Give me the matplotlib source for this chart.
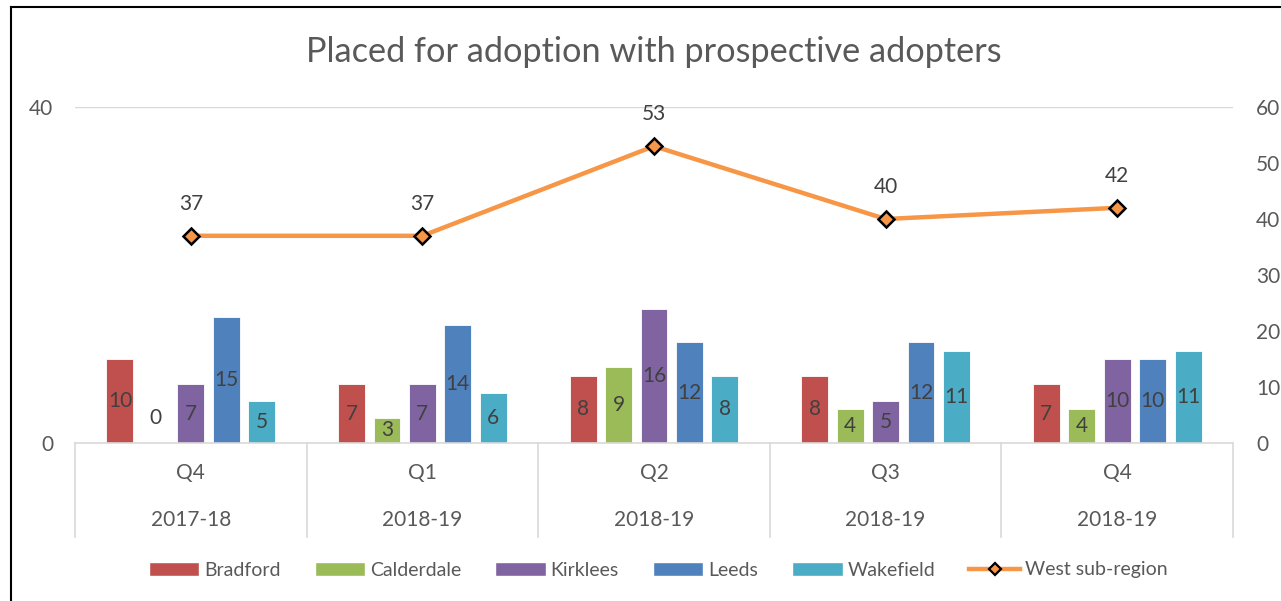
import matplotlib
matplotlib.use("Agg")
import matplotlib.pyplot as plt
import matplotlib.transforms as mtransforms
from matplotlib.lines import Line2D
from matplotlib.patches import Patch
import numpy as np

plt.rcParams['font.family'] = ['Lato', 'DejaVu Sans']

quarters = ["Q4", "Q1", "Q2", "Q3", "Q4"]
years = ["2017-18", "2018-19", "2018-19", "2018-19", "2018-19"]
series_names = ["Bradford", "Calderdale", "Kirklees", "Leeds", "Wakefield"]
bradford = [10, 7, 8, 8, 7]
calderdale = [0, 3, 9, 4, 4]
kirklees = [7, 7, 16, 5, 10]
leeds = [15, 14, 12, 12, 10]
wakefield = [5, 6, 8, 11, 11]
west = [37, 37, 53, 40, 42]
series_values = [bradford, calderdale, kirklees, leeds, wakefield]
colors = ["#C0504D", "#9BBB59", "#8064A2", "#4F81BD", "#4BACC6"]
line_color = "#F79646"
title = "Placed for adoption with prospective adopters"

W, H = 1281, 601
fig = plt.figure(figsize=(W / 100, H / 100), dpi=100)
L, R, T, B = 75, 1233, 107, 443
ax = fig.add_axes([L / W, (H - B) / H, (R - L) / W, (B - T) / H])
ax2 = ax.twinx()

x = np.arange(len(quarters))
step = 0.153
width = 0.116
tick_col = "#595959"
lab_col = "#404040"
fs = 15

for i, (name, vals, c) in enumerate(zip(series_names, series_values, colors)):
    xs = x + (i - 2) * step
    ax.bar(xs, vals, width, color=c, edgecolor="white", linewidth=0.6, zorder=2)
    for xi, v in zip(xs, vals):
        if v == 0:
            ax.annotate(str(v), (xi, 0), xytext=(0, 18), textcoords="offset points",
                        ha="center", va="center", fontsize=fs, color=lab_col, zorder=5)
        else:
            ax.text(xi, v / 2, str(v), ha="center", va="center", fontsize=fs,
                    color=lab_col, zorder=5)

ax2.plot(x, west, color=line_color, lw=3.2, marker="D", markersize=8,
         markerfacecolor=line_color, markeredgecolor="black", markeredgewidth=1.8, zorder=4)
for xi, v in zip(x, west):
    ax2.annotate(str(v), (xi, v), xytext=(0, 23), textcoords="offset points",
                 ha="center", va="center", fontsize=fs, color=lab_col)

ax.set_xlim(-0.5, len(quarters) - 0.5)
ax.set_ylim(0, 40)
ax2.set_ylim(0, 60)
ax.set_yticks([0, 40])
ax2.set_yticks(np.arange(0, 61, 10))
ax.set_xticks([])
for a in (ax, ax2):
    for s in a.spines.values():
        s.set_visible(False)
    a.tick_params(axis="y", length=0, labelsize=fs, labelcolor=tick_col)
ax.tick_params(axis="y", pad=15.5)
ax2.tick_params(axis="y", pad=16.5)
ax.axhline(40, color="#D9D9D9", lw=1, zorder=0)
ax.axhline(0, color="#D9D9D9", lw=1.2, zorder=3, clip_on=False)

# category axis
trans = mtransforms.blended_transform_factory(ax.transData, ax.transAxes)
hpx = B - T
bottom_frac = -(537 - B) / hpx
for b in np.arange(-0.5, len(quarters), 1.0):
    ax.add_line(Line2D([b, b], [0, bottom_frac], transform=trans, color="#D9D9D9",
                       lw=1.2, clip_on=False))
for xi, q, yr in zip(x, quarters, years):
    ax.text(xi, -(473 - B) / hpx, q, transform=trans, ha="center", va="center",
            fontsize=fs, color=tick_col)
    ax.text(xi, -(520 - B) / hpx, yr, transform=trans, ha="center", va="center",
            fontsize=fs, color=tick_col)

fig.text(654 / W, 1 - 52 / H, title, ha="center", va="center", fontsize=24.7, color="#595959")

handles = [Patch(facecolor=c, edgecolor="white", label=n) for n, c in zip(series_names, colors)]
handles.append(Line2D([], [], color=line_color, lw=3.2, marker="D", markersize=6,
                      markerfacecolor=line_color, markeredgecolor="black",
                      markeredgewidth=1.6, label="West sub-region"))
fig.legend(handles=handles, loc="center", bbox_to_anchor=(658 / W, 1 - 570 / H), ncol=6,
           frameon=False, fontsize=14, labelcolor=tick_col, handlelength=2.6,
           handleheight=0.7, columnspacing=1.75, handletextpad=0.25)

# outer border (partially visible)
fig.add_artist(Line2D([11 / W, 11 / W], [0, 1 - 7 / H], color="black", lw=1.5, transform=fig.transFigure))
fig.add_artist(Line2D([11 / W, 1], [1 - 7 / H, 1 - 7 / H], color="black", lw=1.5, transform=fig.transFigure))

fig.savefig("out.png", dpi=100)
